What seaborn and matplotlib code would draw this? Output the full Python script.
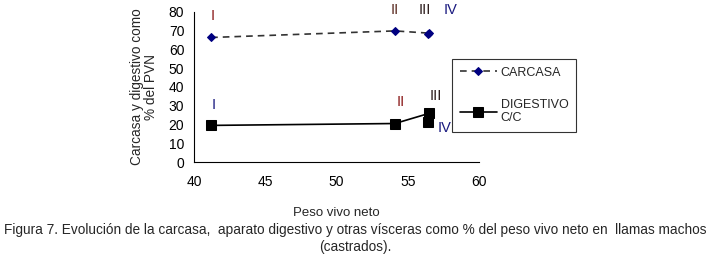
import matplotlib
matplotlib.use("Agg")
import matplotlib.pyplot as plt
import seaborn as sns
import pandas as pd

sns.set_style("white")
plt.rcParams['font.family'] = ['Liberation Sans', 'DejaVu Sans']

peso = [41.2, 54.1, 56.5, 56.4]
carcasa = [66.3, 69.8, 68.6, 68.2]
digestivo = [19.6, 20.6, 26.0, 21.2]
etapas = ["I", "II", "III", "IV"]

# label positions for roman numerals (data coords)
lab_carc_x = [41.3, 54.1, 56.2, 58.0]
lab_carc_y = [77.5, 81.0, 81.0, 81.0]
lab_dig_x = [41.4, 54.5, 57.0, 57.6]
lab_dig_y = [30.5, 32.0, 35.0, 18.0]
lab_carc_c = ["#8B1A1A", "#5A2A20", "#2A1A1A", "#1A1A80"]
lab_dig_c = ["#1A1A80", "#8B1A1A", "#2A1A1A", "#1A1A80"]

df = pd.DataFrame({"peso": peso, "carcasa": carcasa, "digestivo": digestivo})

fig = plt.figure(figsize=(7.11, 2.56), dpi=100)
ax = fig.add_axes([194/711, 1-162.3/256, (479-194)/711, (162.3-11.7)/256])

sns.lineplot(data=df, x="peso", y="carcasa", sort=False, ax=ax, color="#333333",
             linestyle=(0, (4, 3)), linewidth=1.2, marker="D", markersize=4.5,
             markerfacecolor="#000080", markeredgecolor="#000080", label="CARCASA")
sns.lineplot(data=df, x="peso", y="digestivo", sort=False, ax=ax, color="black",
             linewidth=1.2, marker="s", markersize=6.5,
             markerfacecolor="black", markeredgecolor="black", label="DIGESTIVO\nC/C")

for t, x, y, c in zip(etapas, lab_carc_x, lab_carc_y, lab_carc_c):
    ax.text(x, y, t, ha="center", va="center", fontsize=10.5, color=c, clip_on=False)
for t, x, y, c in zip(etapas, lab_dig_x, lab_dig_y, lab_dig_c):
    ax.text(x, y, t, ha="center", va="center", fontsize=10.5, color=c, clip_on=False)

ax.set_xlim(40, 60)
ax.set_ylim(0, 80)
ax.set_xticks([40, 45, 50, 55, 60])
ax.set_yticks(range(0, 81, 10))
ax.tick_params(axis="both", direction="out", length=4, width=0.8, labelsize=10, colors="black", pad=3)
ax.tick_params(axis="x", pad=5)
for s in ["top", "right"]:
    ax.spines[s].set_visible(False)
for s in ["left", "bottom"]:
    ax.spines[s].set_color("black")
    ax.spines[s].set_linewidth(0.8)

ax.set_xlabel("Peso vivo neto", fontsize=9.5)
ax.xaxis.set_label_coords(0.5, -0.3)
ax.set_ylabel("Carcasa y digestivo como\n% del PVN", fontsize=9.8, linespacing=1.0)
ax.yaxis.set_label_coords(-0.125, 0.5)

leg = ax.legend(loc="upper left", bbox_to_anchor=((452-194)/285, (162.3-59)/150.6),
                frameon=True, fontsize=9, handlelength=3.0, borderpad=0.6,
                labelspacing=1.6, fancybox=False, edgecolor="black", handletextpad=0.3,
                borderaxespad=0)
leg.get_frame().set_linewidth(0.8)

fig.text(0.5, 1-230/256, "Figura 7. Evolución de la carcasa,  aparato digestivo y otras vísceras como % del peso vivo neto en  llamas machos",
         ha="center", va="center", fontsize=9.8)
fig.text(0.5, 1-247/256, "(castrados).", ha="center", va="center", fontsize=9.8)

fig.savefig("out.png", dpi=100)
